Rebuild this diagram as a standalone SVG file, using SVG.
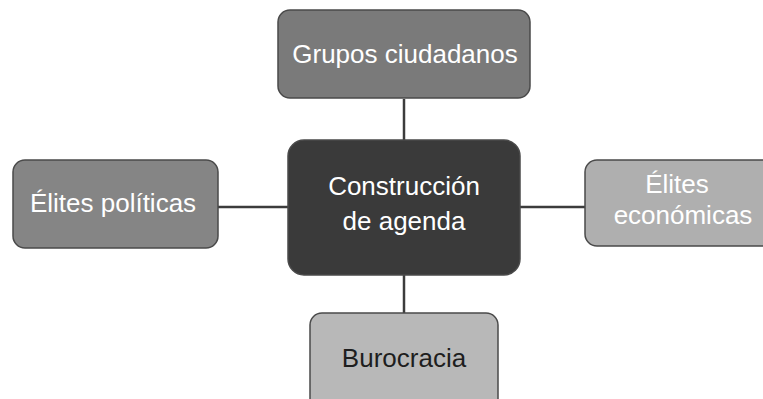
<svg xmlns="http://www.w3.org/2000/svg" width="763" height="399" viewBox="0 0 763 399">
<style>
.box{stroke:#4a4a4a;stroke-width:1.5}
.t{font-family:"Liberation Sans",Arial,sans-serif;font-size:26px;text-anchor:middle;fill:#ffffff}
.dark{fill:#1e1e1e}
.conn line{stroke:#3c3c3c;stroke-width:2.5}
</style>
<rect width="763" height="399" fill="#ffffff"/>
<g id="connectors" class="conn">
<line x1="404" y1="99" x2="404" y2="140"/>
<line x1="218" y1="207" x2="288" y2="207"/>
<line x1="520" y1="207" x2="585" y2="207"/>
<line x1="404" y1="275" x2="404" y2="313"/>
</g>
<g id="grupos">
<rect class="box" x="278" y="10" width="252" height="88" rx="12" fill="#7a7a7a"/>
<text class="t" x="405" y="63">Grupos ciudadanos</text>
</g>
<g id="elites-politicas">
<rect class="box" x="13" y="160" width="205" height="88" rx="12" fill="#858585"/>
<text class="t" x="113" y="212">Élites políticas</text>
</g>
<g id="construccion">
<rect class="box" x="288" y="140" width="232" height="135" rx="16" fill="#3a3a3a"/>
<text class="t" x="404" y="195">Construcción</text>
<text class="t" x="404" y="230">de agenda</text>
</g>
<g id="elites-economicas">
<rect class="box" x="585" y="160" width="192" height="86" rx="12" fill="#afafaf"/>
<text class="t" x="677" y="193">Élites</text>
<text class="t" x="683" y="224">económicas</text>
</g>
<g id="burocracia">
<rect class="box" x="310" y="313" width="188" height="100" rx="12" fill="#b8b8b8"/>
<text class="t dark" x="404" y="367">Burocracia</text>
</g>
</svg>
